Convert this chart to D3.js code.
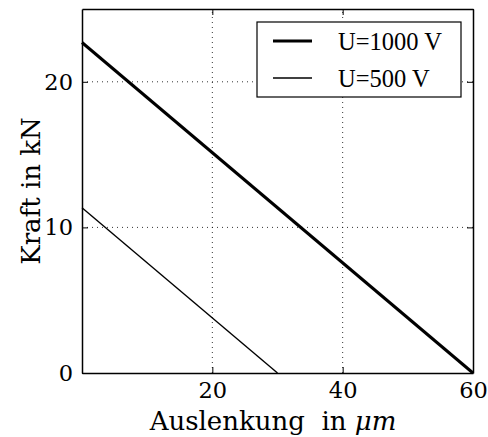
<!DOCTYPE html>
<html lang="de">
  <head>
    <meta charset="UTF-8" />
    <title>Kraft</title>
    <script src="https://d3js.org/d3.v7.min.js"></script>
    <style>
      body { margin: 0; background: #fff; }
      svg text { font-family: "DejaVu Serif", serif; fill: #000; }
      .grid line { stroke: #000; stroke-width: 0.8; stroke-dasharray: 1, 4; }
      .legend text { font-family: "Liberation Serif", "Times New Roman", serif; }
    </style>
  </head>
  <body></body>
  <script type="text/javascript">
    var width = 488,
      height = 437;
    var margin = { top: 9, right: 15, bottom: 64, left: 82 };

    // Daten: Auslenkung (um) und Kraft (kN)
    var series = ['U=1000 V', 'U=500 V'];
    var xVals1000 = [0, 60];
    var yVals1000 = [22.7, 0];
    var xVals500 = [0, 30];
    var yVals500 = [11.35, 0];
    var xTicks = [20, 40, 60];
    var yTicks = [0, 10, 20];
    var lineWidths = [3, 1.4];

    var x = d3.scaleLinear().domain([0, 60]).range([margin.left, width - margin.right]);
    var y = d3.scaleLinear().domain([0, 25]).range([height - margin.bottom, margin.top]);

    var svg = d3.select('body').append('svg').attr('width', width).attr('height', height);

    // Gitter
    var grid = svg.append('g').attr('class', 'grid');
    grid.selectAll('.gx').data(xTicks.slice(0, 2)).enter().append('line')
      .attr('x1', d => x(d)).attr('x2', d => x(d))
      .attr('y1', y(0)).attr('y2', y(25));
    grid.selectAll('.gy').data(yTicks.slice(1)).enter().append('line')
      .attr('x1', x(0)).attr('x2', x(60))
      .attr('y1', d => y(d)).attr('y2', d => y(d));

    // Linien
    var line = d3.line().x(d => x(d[0])).y(d => y(d[1]));
    var data = [
      d3.zip(xVals1000, yVals1000),
      d3.zip(xVals500, yVals500)
    ];
    svg.selectAll('.curve').data(data).enter().append('path')
      .attr('d', d => line(d))
      .attr('fill', 'none')
      .attr('stroke', '#000')
      .attr('stroke-width', (d, i) => lineWidths[i]);

    // Achsen, Ticks nach innen
    var fs = 22.5;
    var axB = svg.append('g').attr('transform', `translate(0,${y(0)})`)
      .call(d3.axisBottom(x).tickValues(xTicks).tickSizeInner(-6).tickSizeOuter(0).tickPadding(9));
    var axT = svg.append('g').attr('transform', `translate(0,${y(25)})`)
      .call(d3.axisTop(x).tickValues(xTicks).tickSizeInner(-6).tickSizeOuter(0).tickFormat(''));
    var axL = svg.append('g').attr('transform', `translate(${x(0)},0)`)
      .call(d3.axisLeft(y).tickValues(yTicks).tickSizeInner(-6).tickSizeOuter(0).tickPadding(9));
    var axR = svg.append('g').attr('transform', `translate(${x(60)},0)`)
      .call(d3.axisRight(y).tickValues(yTicks).tickSizeInner(-6).tickSizeOuter(0).tickFormat(''));
    [axB, axT, axL, axR].forEach(a => {
      a.select('.domain').attr('stroke', '#000').attr('stroke-width', 1.5);
      a.selectAll('.tick line').attr('stroke', '#000').attr('stroke-width', 1);
      a.selectAll('text').attr('font-family', 'DejaVu Serif').attr('font-size', fs).attr('fill', '#000');
    });
    axB.selectAll('text').attr('dy', '0.71em');

    // Achsenbeschriftungen
    var ls = 26;
    var xl = svg.append('text').attr('x', 273).attr('y', 430)
      .attr('text-anchor', 'middle').attr('font-size', ls);
    xl.append('tspan').text('Auslenkung\u00a0 in ');
    xl.append('tspan').attr('font-style', 'italic').text('\u03bcm');

    svg.append('text')
      .attr('transform', `translate(40,${(y(0) + y(25)) / 2}) rotate(-90)`)
      .attr('text-anchor', 'middle').attr('font-size', ls)
      .text('Kraft in kN');

    // Legende
    var lg = svg.append('g').attr('class', 'legend');
    lg.append('rect').attr('x', 257).attr('y', 22).attr('width', 204).attr('height', 75)
      .attr('fill', '#fff').attr('stroke', '#000').attr('stroke-width', 1.2);
    var items = lg.selectAll('.item').data(series).enter().append('g')
      .attr('transform', (d, i) => `translate(0,${41 + i * 37})`);
    items.append('line').attr('x1', 273).attr('x2', 312).attr('y1', 0).attr('y2', 0)
      .attr('stroke', '#000').attr('stroke-width', (d, i) => lineWidths[i]);
    items.append('text').attr('x', 338).attr('y', 9).attr('font-size', 24.5).text(d => d);
  </script>
</html>
